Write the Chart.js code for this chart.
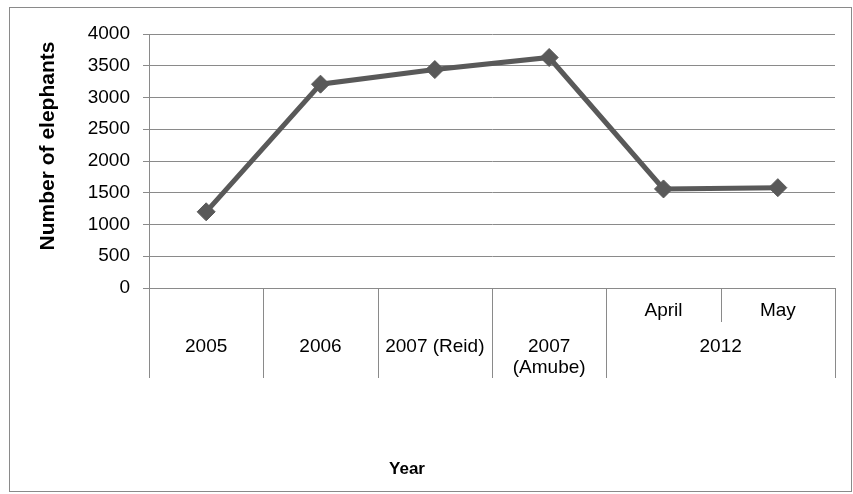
<!DOCTYPE html>
<html>
<head>
<meta charset="utf-8">
<script src="https://cdn.jsdelivr.net/npm/chart.js@4/dist/chart.umd.min.js"></script>
<style>
  html, body { margin: 0; padding: 0; background: #fff; }
  #wrap { width: 853px; height: 494px; position: relative; }
</style>
</head>
<body>
<div id="wrap"><canvas id="chart" width="853" height="494"></canvas></div>
<script>
// Survey counts, one entry per survey
const monthLabels = ['', '', '', '', 'April', 'May'];
const yearLabels = ['2005', '2006', '2007 (Reid)', '2007 (Amube)', '2012', '2012'];
const elephants = [1200, 3210, 3440, 3630, 1560, 1580];

const yMin = 0;
const yMax = 4000;
const yStep = 500;
const yTitle = 'Number of elephants';
const xTitle = 'Year';

const FONT = '"Liberation Sans", Arial, sans-serif';
const LABEL_SIZE = 19;
const Y_TITLE_SIZE = 21;
const X_TITLE_SIZE = 17;
const GRID = '#8a8a8a';
const INK = '#000000';
const LINE = '#595959';

const labels = yearLabels.map((y, i) => monthLabels[i] ? monthLabels[i] + ' ' + y : y);

// Wrap a label into lines no wider than maxWidth
function wrapText(ctx, text, maxWidth) {
  if (ctx.measureText(text).width <= maxWidth) return [text];
  const words = text.split(' ');
  const lines = [];
  let cur = '';
  for (const w of words) {
    const test = cur ? cur + ' ' + w : w;
    if (cur && ctx.measureText(test).width > maxWidth) {
      lines.push(cur);
      cur = w;
    } else {
      cur = test;
    }
  }
  if (cur) lines.push(cur);
  return lines;
}

// Outer frame, axis titles and the two-row category axis (months over grouped years)
const categoryAxis = {
  id: 'categoryAxis',
  beforeDraw(chart) {
    const ctx = chart.ctx;
    ctx.save();
    ctx.fillStyle = '#ffffff';
    ctx.fillRect(0, 0, chart.width, chart.height);
    ctx.strokeStyle = GRID;
    ctx.lineWidth = 1;
    ctx.strokeRect(9.5, 7.5, 842, 484);
    ctx.restore();
  },
  afterDraw(chart) {
    const { ctx, chartArea, scales } = chart;
    const x = scales.x;
    const bottom = chartArea.bottom;
    const n = yearLabels.length;
    const edge = i => x.getPixelForValue(i - 0.5);

    const monthRowY = bottom + 23;
    const yearRowY = bottom + 59;
    const monthLineEnd = bottom + 34;
    const axisEnd = bottom + 90;

    ctx.save();
    ctx.strokeStyle = GRID;
    ctx.lineWidth = 1;
    for (let i = 0; i <= n; i++) {
      const px = Math.round(edge(i)) + 0.5;
      const full = i === 0 || i === n || yearLabels[i] !== yearLabels[i - 1];
      ctx.beginPath();
      ctx.moveTo(px, bottom);
      ctx.lineTo(px, full ? axisEnd : monthLineEnd);
      ctx.stroke();
    }

    ctx.fillStyle = INK;
    ctx.font = LABEL_SIZE + 'px ' + FONT;
    ctx.textAlign = 'center';
    ctx.textBaseline = 'middle';

    // month row
    for (let i = 0; i < n; i++) {
      if (monthLabels[i]) {
        ctx.fillText(monthLabels[i], x.getPixelForValue(i), monthRowY);
      }
    }

    // year row, merging neighbours that share a year
    let start = 0;
    for (let i = 1; i <= n; i++) {
      if (i === n || yearLabels[i] !== yearLabels[start]) {
        const cx = (edge(start) + edge(i)) / 2;
        const lines = wrapText(ctx, yearLabels[start], (edge(i) - edge(start)) - 12);
        lines.forEach((ln, k) => ctx.fillText(ln, cx, yearRowY + k * 21));
        start = i;
      }
    }

    // axis titles
    ctx.font = 'bold ' + X_TITLE_SIZE + 'px ' + FONT;
    ctx.fillText(xTitle, 407, bottom + 181);
    ctx.font = 'bold ' + Y_TITLE_SIZE + 'px ' + FONT;
    ctx.translate(48, 146);
    ctx.rotate(-Math.PI / 2);
    ctx.fillText(yTitle, 0, 0);
    ctx.restore();
  }
};

new Chart(document.getElementById('chart'), {
  type: 'line',
  data: {
    labels: labels,
    datasets: [{
      label: yTitle,
      data: elephants,
      borderColor: LINE,
      borderWidth: 5,
      backgroundColor: LINE,
      pointStyle: 'rectRot',
      pointRadius: 9,
      pointBackgroundColor: LINE,
      pointBorderColor: LINE,
      pointBorderWidth: 1,
      tension: 0,
      fill: false
    }]
  },
  options: {
    responsive: false,
    devicePixelRatio: 1,
    animation: false,
    layout: { padding: { left: 0, top: 34, right: 18, bottom: 206 } },
    plugins: {
      legend: { display: false },
      tooltip: { enabled: false }
    },
    scales: {
      x: {
        type: 'category',
        offset: true,
        display: false
      },
      y: {
        min: yMin,
        max: yMax,
        ticks: {
          stepSize: yStep,
          color: INK,
          padding: 13,
          font: { family: FONT, size: LABEL_SIZE },
          callback: v => String(v)
        },
        grid: { color: GRID, lineWidth: 1, tickLength: 6, drawTicks: true },
        border: { display: true, color: GRID, width: 1 },
        title: { display: false },
        afterFit(scale) { scale.width = 149; }
      }
    }
  },
  plugins: [categoryAxis]
});
</script>
</body>
</html>
